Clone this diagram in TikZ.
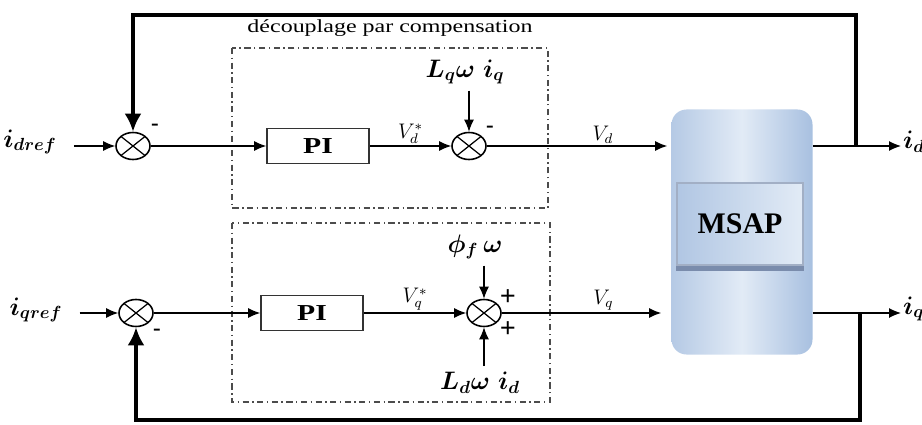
\documentclass[tikz,border=0pt]{standalone}
\usepackage{amsmath,amssymb}
\usepackage{fontspec}
\setmainfont{Liberation Serif}
\newfontfamily\widefont{Liberation Serif}[FakeStretch=1.3]
\usepackage{tikz}
\usetikzlibrary{arrows.meta,shapes.geometric}
\definecolor{msapblue}{RGB}{168,192,224}
\definecolor{msaplight}{RGB}{226,235,246}
\definecolor{msapdark}{RGB}{122,140,172}
\tikzset{
  sigarr/.style  = {-{Latex[length=2.4mm,width=2.0mm]},line width=0.7pt},
  fbarr/.style   = {-{Latex[length=3.6mm,width=3.4mm]},line width=2.3pt},
  sumnode/.style = {ellipse,draw,line width=0.9pt,minimum width=6.8mm,
                    minimum height=5.4mm,inner sep=0pt,
                    path picture={\draw[line width=0.7pt]
                      (path picture bounding box.north west) -- (path picture bounding box.south east)
                      (path picture bounding box.south west) -- (path picture bounding box.north east);}},
  pibox/.style   = {draw=black!80,line width=0.9pt,minimum width=20.4mm,minimum height=7mm,
                    font=\widefont\bfseries\fontsize{13}{15}\selectfont},
  dashbox/.style = {draw=black!70,line width=0.9pt,dash pattern=on 3.5pt off 2pt on 0.8pt off 2pt},
  lbl/.style     = {font=\fontsize{14}{16}\selectfont\boldmath},
  vlbl/.style    = {font=\fontsize{12}{14}\selectfont,inner sep=1pt},
  sgn/.style     = {font=\bfseries\fontsize{13}{15}\selectfont,inner sep=0pt},
  plus/.style    = {font=\bfseries\fontsize{16}{18}\selectfont,inner sep=0pt},
  msapbox/.style = {rounded corners=3mm,minimum width=28.2mm,minimum height=49mm,
                    left color=msapblue!85!white,right color=msapblue,middle color=msaplight},
  msapin/.style  = {draw=msapdark!70,line width=0.6pt,minimum width=25.2mm,minimum height=16.4mm,
                    left color=msapblue!90!white,right color=msaplight,
                    font=\bfseries\fontsize{17}{19}\selectfont}
}

\begin{document}
\begin{tikzpicture}[x=0.2mm,y=-0.2mm]
  \useasboundingbox (0,0) rectangle (922,425);

  % decoupling blocks
  \draw[dashbox] (232,48) rectangle (548,208);
  \draw[dashbox] (232,223) rectangle (550,402);
  \node[font=\widefont\fontsize{10.5}{12}\selectfont] (title) at (390,28) {découplage par compensation};

  % machine
  \node[msapbox] (msap) at (742,232) {};
  \node[msapin] (msapin) at (740,224) {MSAP};
  \fill[msapdark] (msapin.south west) rectangle ([yshift=-1.1mm]msapin.south east);

  % d axis
  \node[lbl] (idref) at (30,142) {$i_{dref}$};
  \node[sumnode] (sum1) at (133,146) {};
  \node[pibox] (pi1) at (318,146) {PI};
  \node[sumnode] (sum2) at (469,146) {};
  \node[lbl] (lqw) at (465,72) {$L_q\omega\;i_q$};
  \node[sgn] (sg1) at (155,127) {-};
  \node[sgn] (sg2) at (490,129) {-};
  \node[lbl,anchor=west,inner sep=1pt] (idl) at (901,142) {$i_d$};

  \draw[sigarr,shorten <=2.2mm] (idref.east |- sum1) -- (sum1.west);
  \draw[sigarr] (sum1.east) -- (pi1.west);
  \draw[sigarr] (pi1.east) -- node[vlbl,above] (vds) {$V_d^*$} (sum2.west);
  \draw[sigarr] (sum2 |- lqw.south) -- (sum2.north);
  \draw[sigarr,shorten >=0.8mm] (sum2.east) -- node[vlbl,above,pos=0.63] (vd) {$V_d$} (msap.west |- sum2);
  \draw[sigarr] (msap.east |- sum2) -- (idl.west |- sum2);

  % q axis
  \node[lbl] (iqref) at (36,310) {$i_{qref}$};
  \node[sumnode] (sum3) at (136,313) {};
  \node[pibox] (pi2) at (312,313) {PI};
  \node[sumnode] (sum4) at (484,313) {};
  \node[lbl] (phiw) at (475,247) {$\phi_f\,\omega$};
  \node[lbl] (ldw) at (480,383) {$L_d\omega\;i_d$};
  \node[sgn] (sg3) at (157,332) {-};
  \node[plus] (sg4) at (508,298) {+};
  \node[plus] (sg5) at (508,330) {+};
  \node[lbl,anchor=west,inner sep=1pt] (iql) at (901,309) {$i_q$};

  \draw[sigarr,shorten <=2.2mm] (iqref.east |- sum3) -- (sum3.west);
  \draw[sigarr] (sum3.east) -- (pi2.west);
  \draw[sigarr] (pi2.east) -- node[vlbl,above] (vqs) {$V_q^*$} (sum4.west);
  \draw[sigarr] (sum4 |- phiw.south) -- (sum4.north);
  \draw[sigarr] (sum4 |- ldw.north) -- (sum4.south);
  \draw[sigarr,shorten >=2mm] (sum4.east) -- node[vlbl,above,pos=0.6] (vq) {$V_q$} (msap.west |- sum4);
  \draw[sigarr] (msap.east |- sum4) -- (iql.west |- sum4);

  % current feedback
  \coordinate (jd) at (856,146);
  \coordinate (topfb) at (856,15);
  \coordinate (jq) at (860,313);
  \coordinate (botfb) at (860,420);
  \draw[fbarr] (jd) -- (topfb) -| (sum1.north);
  \draw[fbarr] (jq) -- (botfb) -| (sum3.south);
\end{tikzpicture}
\end{document}
